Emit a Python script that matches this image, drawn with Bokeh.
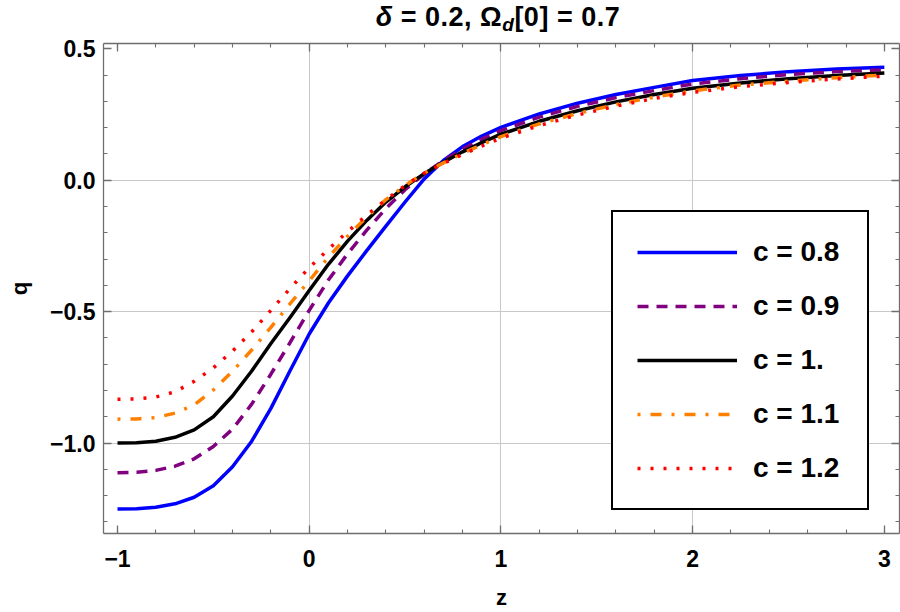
from bokeh.plotting import figure
from bokeh.layouts import column
from bokeh.models import (ColumnDataSource, FixedTicker, LinearAxis, Legend,
                          LegendItem, Range1d, Div)
from bokeh.embed import file_html
from bokeh.resources import INLINE

# ---------------- data ----------------
z = [-1.0, -0.9, -0.8, -0.7, -0.6, -0.5, -0.4, -0.3, -0.2, -0.1, 0.0, 0.1, 0.2,
     0.3, 0.4, 0.5, 0.6, 0.7, 0.8, 0.9, 1.0, 1.2, 1.4, 1.6, 1.8, 2.0, 2.25, 2.5,
     2.75, 3.0]

q_c08 = [-1.251, -1.250, -1.244, -1.231, -1.206, -1.162, -1.090, -0.993, -0.868,
         -0.725, -0.585, -0.467, -0.364, -0.268, -0.175, -0.083, 0.005, 0.075,
         0.128, 0.168, 0.201, 0.252, 0.293, 0.326, 0.353, 0.379, 0.398, 0.413,
         0.423, 0.430]
q_c09 = [-1.113, -1.111, -1.104, -1.088, -1.060, -1.013, -0.947, -0.852, -0.738,
         -0.618, -0.495, -0.380, -0.280, -0.190, -0.108, -0.036, 0.024, 0.075,
         0.118, 0.156, 0.189, 0.240, 0.281, 0.314, 0.341, 0.366, 0.386, 0.402,
         0.413, 0.420]
q_c10 = [-1.000, -0.999, -0.993, -0.978, -0.950, -0.900, -0.821, -0.726, -0.621,
         -0.522, -0.420, -0.320, -0.232, -0.153, -0.083, -0.025, 0.025, 0.068,
         0.108, 0.143, 0.175, 0.224, 0.264, 0.298, 0.326, 0.350, 0.370, 0.386,
         0.398, 0.408]
q_c11 = [-0.909, -0.908, -0.903, -0.886, -0.855, -0.798, -0.727, -0.646, -0.560,
         -0.470, -0.383, -0.293, -0.213, -0.140, -0.074, -0.020, 0.027, 0.066,
         0.102, 0.135, 0.166, 0.214, 0.254, 0.288, 0.316, 0.340, 0.362, 0.377,
         0.390, 0.400]
q_c12 = [-0.833, -0.832, -0.825, -0.805, -0.765, -0.714, -0.650, -0.577, -0.495,
         -0.412, -0.333, -0.263, -0.196, -0.133, -0.075, -0.020, 0.027, 0.064,
         0.098, 0.130, 0.160, 0.208, 0.248, 0.282, 0.311, 0.334, 0.356, 0.372,
         0.385, 0.396]

series_labels = ["c = 0.8", "c = 0.9", "c = 1.", "c = 1.1", "c = 1.2"]
series_keys = ["c08", "c09", "c10", "c11", "c12"]

x_ticks = [-1, 0, 1, 2, 3]
x_tick_labels = ["\u22121", "0", "1", "2", "3"]
y_ticks = [-1.0, -0.5, 0.0, 0.5]
y_tick_labels = ["\u22121.0", "\u22120.5", "0.0", "0.5"]
x_grid = [0, 1, 2]
y_grid = [-1.0, -0.5, 0.0]

title_html = ("<i>\u03b4</i> = 0.2, \u03a9"
              "<sub style='font-size:19px;vertical-align:-5px;line-height:0'>"
              "<i>d</i></sub>[0] = 0.7")

# ---------------- styles ----------------
FONT = "Liberation Sans"
AXC = "#6e6e6e"
colors = ["#0000ff", "#800080", "#000000", "#ff8000", "#ff0000"]
dashes = ["solid", "11 8", "solid", "3 10 11 10", "3 10"]

source = ColumnDataSource(data=dict(z=z, c08=q_c08, c09=q_c09, c10=q_c10,
                                    c11=q_c11, c12=q_c12))

TITLE_H = 33
p = figure(width=900, height=612 - TITLE_H,
           x_range=Range1d(-1.073, 3.079), y_range=Range1d(-1.344, 0.520),
           output_backend="svg", toolbar_location=None,
           min_border_left=103, min_border_right=1, min_border_top=43 - TITLE_H,
           min_border_bottom=77, x_axis_label="z", y_axis_label="q")
p.outline_line_color = None
p.background_fill_color = "white"
p.border_fill_color = "white"
p.margin = (0, 0, 0, 0)

x_minor = [round(-1.0 + 0.2 * i, 2) for i in range(21)]
y_minor = [round(-1.3 + 0.1 * i, 2) for i in range(19)]


def style_axis(ax, ticker, overrides, show_labels):
    ax.ticker = ticker
    ax.axis_line_color = AXC
    ax.axis_line_width = 1.3
    ax.major_tick_line_color = AXC
    ax.minor_tick_line_color = AXC
    ax.major_tick_line_width = 1.3
    ax.minor_tick_line_width = 1.1
    ax.major_tick_in = 8
    ax.major_tick_out = 0
    ax.minor_tick_in = 4
    ax.minor_tick_out = 0
    if show_labels:
        ax.major_label_overrides = overrides
        ax.major_label_text_font = FONT
        ax.major_label_text_font_style = "bold"
        ax.major_label_text_font_size = "23px"
        ax.major_label_text_color = "black"
    else:
        ax.major_label_overrides = {k: "" for k in overrides}
        ax.major_label_text_font_size = "0px"
        ax.major_label_standoff = 0


xt = FixedTicker(ticks=x_ticks, minor_ticks=x_minor)
yt = FixedTicker(ticks=y_ticks, minor_ticks=y_minor)
x_over = {t: l for t, l in zip(x_ticks, x_tick_labels)}
y_over = {t: l for t, l in zip(y_ticks, y_tick_labels)}

xa = p.xaxis[0]
ya = p.yaxis[0]
style_axis(xa, xt, x_over, True)
style_axis(ya, yt, y_over, True)
xa.major_label_standoff = 16
ya.major_label_standoff = 8
for ax, st in ((xa, 15), (ya, 15)):
    ax.axis_label_text_font = FONT
    ax.axis_label_text_font_style = "bold"
    ax.axis_label_text_font_size = "22px"
    ax.axis_label_text_color = "black"
    ax.axis_label_standoff = st

top = LinearAxis()
style_axis(top, FixedTicker(ticks=x_ticks, minor_ticks=x_minor), x_over, False)
p.add_layout(top, "above")
right = LinearAxis()
style_axis(right, FixedTicker(ticks=y_ticks, minor_ticks=y_minor), y_over, False)
p.add_layout(right, "right")

p.xgrid.ticker = FixedTicker(ticks=x_grid)
p.ygrid.ticker = FixedTicker(ticks=y_grid)
for g in (p.xgrid[0], p.ygrid[0]):
    g.grid_line_color = "#c8c8c8"
    g.grid_line_width = 1

renderers = []
for key, col, dash in zip(series_keys, colors, dashes):
    r = p.line("z", key, source=source, line_color=col, line_width=3.5,
               line_dash=dash, line_join="round")
    renderers.append(r)

items = [LegendItem(label=lab, renderers=[r]) for lab, r in zip(series_labels, renderers)]
leg = Legend(items=items, location=(508, 23), margin=0,
             label_text_font=FONT, label_text_font_style="bold",
             label_text_font_size="28px", label_text_color="black",
             glyph_width=100, glyph_height=30, label_height=30, label_width=90,
             label_standoff=16, spacing=22, padding=24,
             border_line_color="black", border_line_width=2,
             border_line_alpha=1.0,
             background_fill_color="white", background_fill_alpha=1.0)
p.add_layout(leg, "center")

title = Div(text=(
    "<div style=\"font-family:'Liberation Sans',sans-serif;font-weight:bold;"
    "font-size:27px;line-height:27px;letter-spacing:0.5px;text-align:center;"
    "padding-left:96px;padding-top:4px;width:900px;box-sizing:border-box;"
    "white-space:nowrap;color:black;\">" + title_html + "</div>"),
    width=900, height=TITLE_H, margin=(0, 0, 0, 0))

layout = column(title, p, spacing=0)
layout.margin = (0, 0, 0, 0)

open("out.html", "w").write(file_html(layout, INLINE))
